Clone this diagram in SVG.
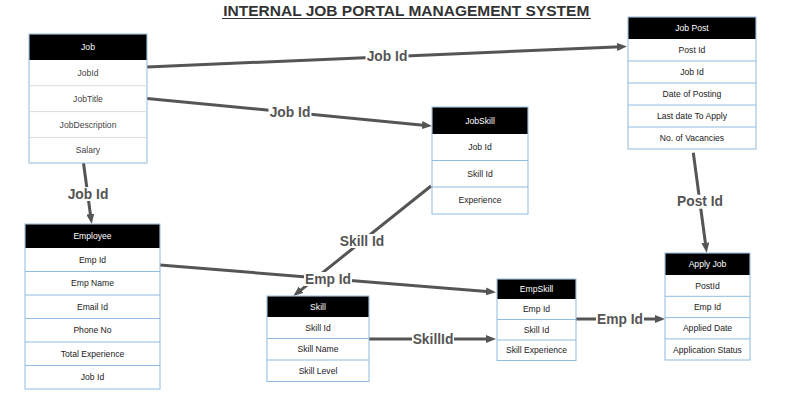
<svg xmlns="http://www.w3.org/2000/svg" width="793" height="404" viewBox="0 0 793 404">
<style>
text{font-family:"Liberation Sans",Arial,sans-serif}
.bg{fill:#fff}
.box{fill:#fff;stroke:#8fbce0;stroke-width:1}
.hdr{fill:#000}
.sep{stroke:#8fbce0;stroke-width:1}
.sepg{stroke:#dcdcdc;stroke-width:1}
.h{fill:#fff;font-size:8.6px;text-anchor:middle;dominant-baseline:central}
.r{fill:#222;font-size:8.6px;text-anchor:middle;dominant-baseline:central}
.c{stroke:#555;stroke-width:3;fill:none}
.lb{fill:#fff}
.lbl{fill:#555;font-size:13.8px;font-weight:bold;text-anchor:middle;dominant-baseline:central}
</style>
<defs>
<marker id="arr" markerUnits="userSpaceOnUse" markerWidth="10" markerHeight="8" refX="4" refY="4" orient="auto">
<path d="M0,0 L10,4 L0,8 z" fill="#555"/>
</marker>
</defs>
<rect class="bg" x="0" y="0" width="793" height="404"/>
<g id="title">
<text x="406.3" y="10.5" style="font-size:15.5px;font-weight:bold;fill:#333;text-anchor:middle;dominant-baseline:central">INTERNAL JOB PORTAL MANAGEMENT SYSTEM</text>
<line x1="222" y1="18.5" x2="591" y2="18.5" stroke="#333" stroke-width="1.2"/>
</g>
<g id="connectors">
<line class="c" x1="147" y1="67" x2="621" y2="46.8" marker-end="url(#arr)"/>
<line class="c" x1="147" y1="98.5" x2="426" y2="125.4" marker-end="url(#arr)"/>
<line class="c" x1="83.5" y1="163" x2="90.9" y2="218" marker-end="url(#arr)"/>
<line class="c" x1="431" y1="186" x2="298" y2="292.3" marker-end="url(#arr)"/>
<line class="c" x1="160" y1="265" x2="490" y2="291.8" marker-end="url(#arr)"/>
<line class="c" x1="369" y1="339" x2="490" y2="339" marker-end="url(#arr)"/>
<line class="c" x1="576" y1="319" x2="659" y2="319" marker-end="url(#arr)"/>
<line class="c" x1="693.3" y1="152.7" x2="705.9" y2="246.8" marker-end="url(#arr)"/>
<rect class="lb" x="365.5" y="49" width="43" height="14"/>
<rect class="lb" x="268.5" y="105" width="43" height="14"/>
<rect class="lb" x="66.5" y="187" width="43" height="14"/>
<rect class="lb" x="339" y="234" width="46" height="14"/>
<rect class="lb" x="304" y="272" width="48" height="14"/>
<rect class="lb" x="412" y="332" width="42" height="14"/>
<rect class="lb" x="596" y="312" width="48" height="14"/>
<rect class="lb" x="676" y="194.7" width="48" height="14"/>
<text class="lbl" x="387" y="56">Job Id</text>
<text class="lbl" x="290" y="112">Job Id</text>
<text class="lbl" x="88" y="194">Job Id</text>
<text class="lbl" x="362" y="241">Skill Id</text>
<text class="lbl" x="328" y="279">Emp Id</text>
<text class="lbl" x="433" y="339">SkillId</text>
<text class="lbl" x="620" y="319">Emp Id</text>
<text class="lbl" x="700" y="201.7">Post Id</text>
</g>
<g id="job">
<rect class="box" x="29" y="34" width="118" height="129"/>
<rect class="hdr" x="29.5" y="34.5" width="117" height="25.5"/>
<line class="sepg" x1="30" y1="85.8" x2="146" y2="85.8"/>
<line class="sepg" x1="30" y1="111.6" x2="146" y2="111.6"/>
<line class="sepg" x1="30" y1="137.4" x2="146" y2="137.4"/>
<text class="h" x="88" y="47">Job</text>
<text class="r" x="88" y="73" style="fill:#444">JobId</text>
<text class="r" x="88" y="98.7" style="fill:#444">JobTitle</text>
<text class="r" x="88" y="124.5" style="fill:#444">JobDescription</text>
<text class="r" x="88" y="150.2" style="fill:#444">Salary</text>
</g>
<g id="jobpost">
<rect class="box" x="628" y="17" width="128" height="132"/>
<rect class="hdr" x="628.5" y="17.5" width="127" height="21.5"/>
<line class="sep" x1="628" y1="61" x2="756" y2="61"/>
<line class="sep" x1="628" y1="83" x2="756" y2="83"/>
<line class="sep" x1="628" y1="105" x2="756" y2="105"/>
<line class="sep" x1="628" y1="127" x2="756" y2="127"/>
<text class="h" x="692" y="28">Job Post</text>
<text class="r" x="692" y="50">Post Id</text>
<text class="r" x="692" y="72">Job Id</text>
<text class="r" x="692" y="94">Date of Posting</text>
<text class="r" x="692" y="116">Last date To Apply</text>
<text class="r" x="692" y="138">No. of Vacancies</text>
</g>
<g id="jobskill">
<rect class="box" x="432" y="107" width="96" height="107"/>
<rect class="hdr" x="432.5" y="107.5" width="95" height="26.5"/>
<line class="sep" x1="432" y1="160.5" x2="528" y2="160.5"/>
<line class="sep" x1="432" y1="187" x2="528" y2="187"/>
<text class="h" x="480" y="120.5">JobSkill</text>
<text class="r" x="480" y="147">Job Id</text>
<text class="r" x="480" y="173.7">Skill Id</text>
<text class="r" x="480" y="200.3">Experience</text>
</g>
<g id="employee">
<rect class="box" x="25" y="224" width="135" height="165"/>
<rect class="hdr" x="25.5" y="224.5" width="134" height="23.5"/>
<line class="sep" x1="25" y1="271.5" x2="160" y2="271.5"/>
<line class="sep" x1="25" y1="295" x2="160" y2="295"/>
<line class="sep" x1="25" y1="318.5" x2="160" y2="318.5"/>
<line class="sep" x1="25" y1="342" x2="160" y2="342"/>
<line class="sep" x1="25" y1="365.5" x2="160" y2="365.5"/>
<text class="h" x="92.5" y="236">Employee</text>
<text class="r" x="92.5" y="259.7">Emp Id</text>
<text class="r" x="92.5" y="283.2">Emp Name</text>
<text class="r" x="92.5" y="306.7">Email Id</text>
<text class="r" x="92.5" y="330.2">Phone No</text>
<text class="r" x="92.5" y="353.7">Total Experience</text>
<text class="r" x="92.5" y="377.2">Job Id</text>
</g>
<g id="skill">
<rect class="box" x="267" y="296" width="102" height="85.5"/>
<rect class="hdr" x="267.5" y="296.5" width="101" height="20.5"/>
<line class="sep" x1="267" y1="338.5" x2="369" y2="338.5"/>
<line class="sep" x1="267" y1="360" x2="369" y2="360"/>
<text class="h" x="318" y="306.5">Skill</text>
<text class="r" x="318" y="327.7">Skill Id</text>
<text class="r" x="318" y="349.2">Skill Name</text>
<text class="r" x="318" y="370.7">Skill Level</text>
</g>
<g id="empskill">
<rect class="box" x="497" y="279" width="79" height="81.5"/>
<rect class="hdr" x="497.5" y="279.5" width="78" height="19.5"/>
<line class="sep" x1="497" y1="319.5" x2="576" y2="319.5"/>
<line class="sep" x1="497" y1="340" x2="576" y2="340"/>
<text class="h" x="536.5" y="288.7">EmpSkill</text>
<text class="r" x="536.5" y="309">Emp Id</text>
<text class="r" x="536.5" y="329.5">Skill Id</text>
<text class="r" x="536.5" y="350">Skill Experience</text>
</g>
<g id="applyjob">
<rect class="box" x="665" y="253" width="85" height="107"/>
<rect class="hdr" x="665.5" y="253.5" width="84" height="21.5"/>
<line class="sep" x1="665" y1="296.3" x2="750" y2="296.3"/>
<line class="sep" x1="665" y1="317.6" x2="750" y2="317.6"/>
<line class="sep" x1="665" y1="338.9" x2="750" y2="338.9"/>
<text class="h" x="707.5" y="264">Apply Job</text>
<text class="r" x="707.5" y="285.6">PostId</text>
<text class="r" x="707.5" y="307">Emp Id</text>
<text class="r" x="707.5" y="328.2">Applied Date</text>
<text class="r" x="707.5" y="349.5">Application Status</text>
</g>
</svg>
